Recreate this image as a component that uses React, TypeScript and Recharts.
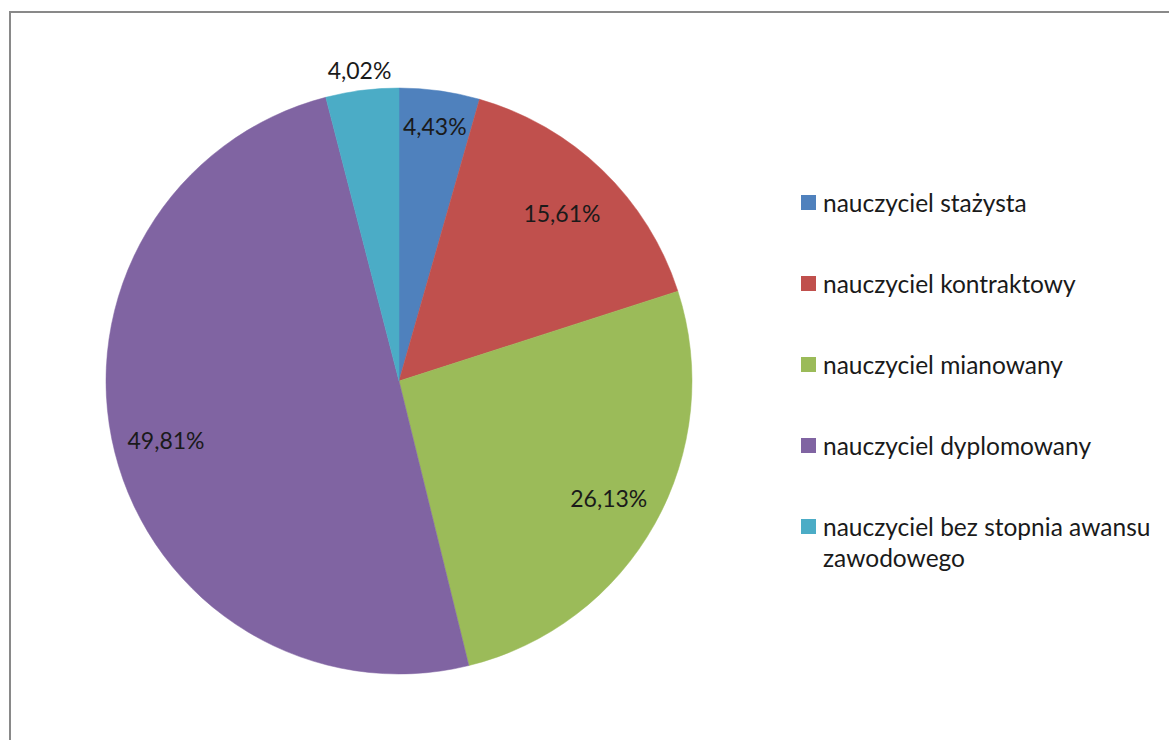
import { PieChart, Pie, Cell, Legend } from 'recharts';

const CATEGORIES = [
  'nauczyciel stażysta',
  'nauczyciel kontraktowy',
  'nauczyciel mianowany',
  'nauczyciel dyplomowany',
  'nauczyciel bez stopnia awansu zawodowego',
];
const SHARES = [4.43, 15.61, 26.13, 49.81, 4.02];
const COLORS = ['#4F81BD', '#C0504D', '#9BBB59', '#8064A2', '#4BACC6'];

// label distance from the centre as a fraction of the radius (Excel "best fit")
const LABEL_RADIUS = [0.88, 0.8, 0.82, 0.82, 1.07];

const FONT = 'Lato, "Open Sans", sans-serif';
const RADIAN = Math.PI / 180;

const data = CATEGORIES.map((name, i) => ({ name, value: SHARES[i] }));

const renderLabel = (props: any) => {
  const { cx, cy, midAngle, outerRadius, index, value } = props;
  const r = outerRadius * LABEL_RADIUS[index];
  const x = cx + r * Math.cos(-midAngle * RADIAN);
  const y = cy + r * Math.sin(-midAngle * RADIAN);
  return (
    <text x={x} y={y} textAnchor="middle" dominantBaseline="central" fill="#1a1a1a" fontSize={23} fontFamily={FONT}>
      {value.toFixed(2).replace('.', ',')}%
    </text>
  );
};

const LegendContent = () => (
  <div style={{ fontFamily: FONT, fontSize: 24.5, color: '#1a1a1a' }}>
    {CATEGORIES.map((c, i) => (
      <div key={c} style={{ display: 'flex', alignItems: 'flex-start', height: 81 }}>
        <span style={{ width: 15, height: 15, background: COLORS[i], marginTop: 8, marginRight: 7, flexShrink: 0 }} />
        <span style={{ width: 345, lineHeight: '31px' }}>{c}</span>
      </div>
    ))}
  </div>
);

export default function App() {
  return (
    <div style={{ position: 'fixed', left: 0, top: 0, width: 1169, height: 740, overflow: 'hidden', background: '#fff' }}>
      <div style={{ position: 'absolute', left: 9, top: 11, width: 1300, height: 900, border: '2px solid #898989' }} />
      <div style={{ position: 'absolute', left: 0, top: 0 }}>
        <PieChart width={1169} height={740} margin={{ top: 0, right: 0, bottom: 0, left: 0 }}>
          <Pie
            data={data}
            dataKey="value"
            nameKey="name"
            cx={399}
            cy={381}
            outerRadius={293}
            startAngle={90}
            endAngle={-270}
            label={renderLabel}
            labelLine={false}
            isAnimationActive={false}
          >
            {data.map((d, i) => (
              <Cell key={d.name} fill={COLORS[i]} stroke={COLORS[i]} strokeWidth={0.5} />
            ))}
          </Pie>
          <Legend
            content={<LegendContent />}
            layout="vertical"
            wrapperStyle={{ position: 'absolute', left: 801, top: 187, width: 370 }}
          />
        </PieChart>
      </div>
    </div>
  );
}
